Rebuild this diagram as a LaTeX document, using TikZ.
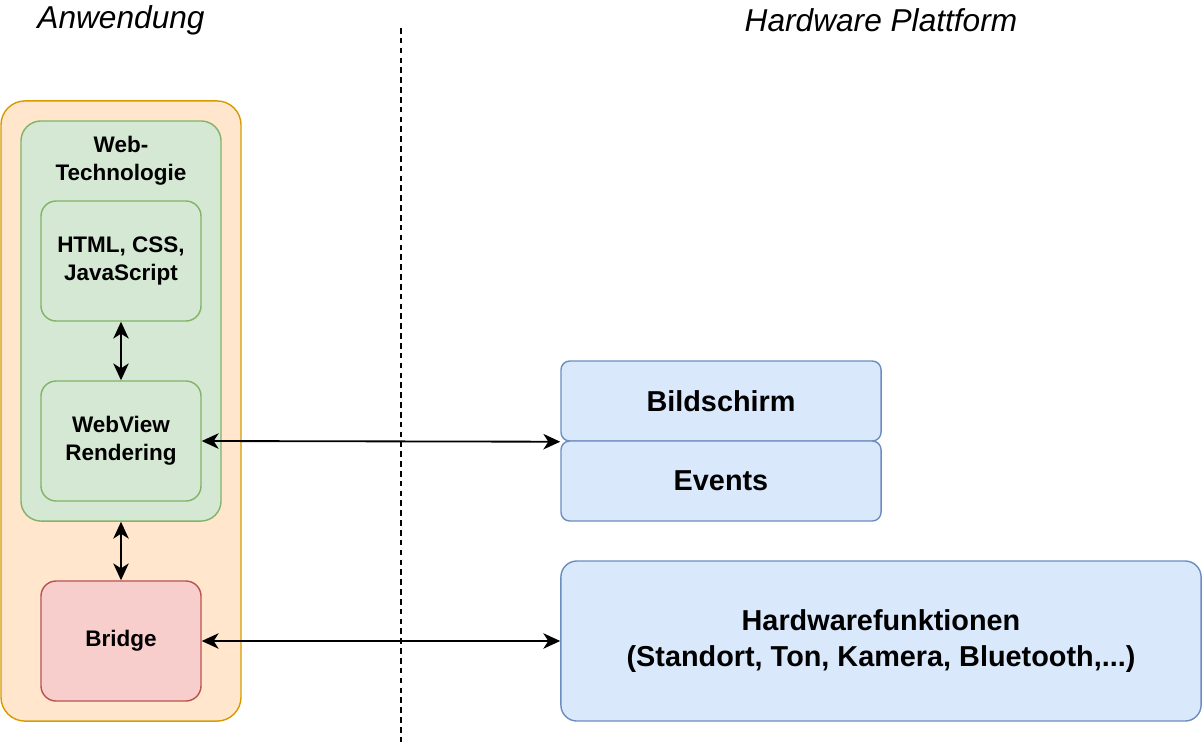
\documentclass[tikz,border=0pt]{standalone}
\usepackage{fontspec}
\setmainfont{Liberation Sans}
\usetikzlibrary{arrows.meta, calc, positioning}

\definecolor{anwfill}{HTML}{FFE6CC}
\definecolor{anwdraw}{HTML}{D79B00}
\definecolor{webfill}{HTML}{D5E8D4}
\definecolor{webdraw}{HTML}{82B366}
\definecolor{brgfill}{HTML}{F8CECC}
\definecolor{brgdraw}{HTML}{B85450}
\definecolor{hwfill}{HTML}{DAE8FC}
\definecolor{hwdraw}{HTML}{6C8EBF}

\begin{document}
\begin{tikzpicture}[x=0.025cm, y=-0.025cm, >={Stealth[length=12pt, width=11pt, inset=3.5pt]},
    box/.style={draw, line width=1pt, inner sep=0pt, align=center},
    smalltext/.style={font=\bfseries\fontsize{16}{20}\selectfont},
    bigtext/.style={font=\bfseries\fontsize{20.5}{26}\selectfont},
    headtext/.style={font=\itshape\fontsize{22.5}{27}\selectfont}]

        \useasboundingbox (0,0) rectangle (1202,744);

        % Column titles and the separating line

        \node[headtext] (apptitle) at (121,20) {Anwendung};
        \node[headtext] (hwtitle) at (881,20) {Hardware Plattform};
        \coordinate (septop) at (401,28);
        \coordinate (sepbot) at (401,744);
        \draw[line width=1pt, dash pattern=on 4pt off 3pt] (septop) -- (sepbot);

        % Draw the application side

        \node[box, fill=anwfill, draw=anwdraw, rounded corners=0.6cm, minimum width=6cm, minimum height=15.5cm] (anw) at (121,411) {};
        \node[box, fill=webfill, draw=webdraw, rounded corners=0.5cm, minimum width=5cm, minimum height=10cm] (webtech) at (121,321) {};
        \node[smalltext, align=center] (webtechlabel) at (121,161) {Web-\\Technologie};
        \node[box, smalltext, fill=webfill, draw=webdraw, rounded corners=0.38cm, minimum width=4cm, minimum height=3cm] (html) at (121,261) {HTML, CSS,\\JavaScript};
        \node[box, smalltext, fill=webfill, draw=webdraw, rounded corners=0.38cm, minimum width=4cm, minimum height=3cm] (webview) at (121,441) {WebView\\Rendering};
        \node[box, smalltext, fill=brgfill, draw=brgdraw, rounded corners=0.38cm, minimum width=4cm, minimum height=3cm] (bridge) at (121,641) {Bridge};

        % Draw the hardware side

        \node[box, bigtext, fill=hwfill, draw=hwdraw, rounded corners=0.22cm, minimum width=8cm, minimum height=2cm] (bild) at (721,401) {Bildschirm};
        \node[box, bigtext, fill=hwfill, draw=hwdraw, rounded corners=0.22cm, minimum width=8cm, minimum height=2cm] (events) at (721,481) {Events};
        \node[box, bigtext, fill=hwfill, draw=hwdraw, rounded corners=0.4cm, minimum width=16cm, minimum height=4cm] (hw) at (881,641) {Hardwarefunktionen\\(Standort, Ton, Kamera, Bluetooth,...)};

        % Arrows between the parts

        \draw[<->, line width=1.3pt] (html) -- (webview);
        \draw[<->, line width=1.3pt] (webtech) -- (bridge);
        \draw[<->, line width=1.3pt] (webview.east) -- (bild.south west);
        \draw[<->, line width=1.3pt] (bridge) -- (hw);
    \end{tikzpicture}
\end{document}
